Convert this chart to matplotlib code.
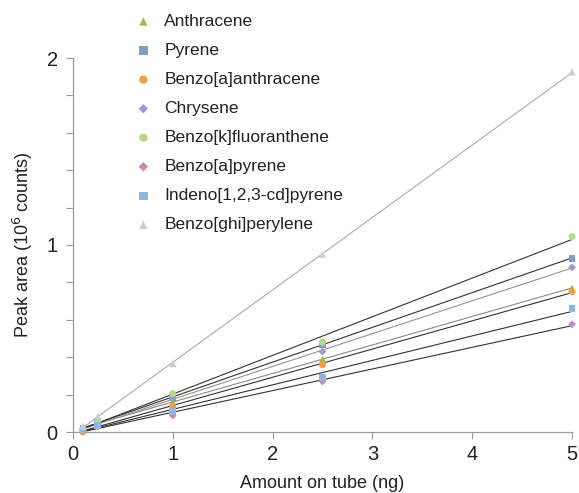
import numpy as np
import matplotlib
matplotlib.use("Agg")
import matplotlib.pyplot as plt
from matplotlib.ticker import MultipleLocator

plt.rcParams['font.family'] = ['Liberation Sans', 'DejaVu Sans']

amount = [0.1, 0.25, 1, 2.5, 5]

series_names = [
    "Anthracene", "Pyrene", "Benzo[a]anthracene", "Chrysene",
    "Benzo[k]fluoranthene", "Benzo[a]pyrene", "Indeno[1,2,3-cd]pyrene",
    "Benzo[ghi]perylene",
]
anthracene = [0.02, 0.05, 0.16, 0.39, 0.77]
pyrene = [0.02, 0.05, 0.185, 0.47, 0.93]
benz_a_anthracene = [0.0, 0.045, 0.135, 0.36, 0.75]
chrysene = [0.015, 0.045, 0.18, 0.43, 0.88]
benzo_k_fluoranthene = [0.02, 0.06, 0.205, 0.48, 1.045]
benzo_a_pyrene = [0.01, 0.03, 0.088, 0.27, 0.576]
indeno_pyrene = [0.015, 0.035, 0.11, 0.29, 0.66]
benzo_ghi_perylene = [0.03, 0.085, 0.365, 0.95, 1.925]

series_values = [anthracene, pyrene, benz_a_anthracene, chrysene,
                 benzo_k_fluoranthene, benzo_a_pyrene, indeno_pyrene,
                 benzo_ghi_perylene]
marker_colors = ["#9bbb59", "#7f9fcb", "#f0a040", "#9e98d0",
                 "#b4d88a", "#c889b8", "#8fb6e2", "#cdc8e2"]
markers = ["^", "s", "o", "D", "o", "D", "s", "^"]
marker_sizes = [5, 5, 5, 4, 5, 4, 5, 5]
line_colors = ["#8f8a85", "#333333", "#333333", "#9a928a",
               "#333333", "#333333", "#333333", "#b0aaa8"]

fig = plt.figure(figsize=(5.79, 4.93), dpi=100)
ax = fig.add_axes([73/579, 1-432/493, (572-73)/579, (432-58)/493])

handles = []
for name, vals, mc, mk, ms, lc in zip(series_names, series_values, marker_colors,
                                      markers, marker_sizes, line_colors):
    x = np.array(amount)
    y = np.array(vals)
    slope, icpt = np.polyfit(x, y, 1)
    ax.plot([x.min(), x.max()], [slope*x.min()+icpt, slope*x.max()+icpt],
            color=lc, lw=0.8, zorder=2, clip_on=False)
    h = ax.scatter(x, y, marker=mk, s=ms**2, color=mc, edgecolors='none',
                   zorder=3, clip_on=False, label=name)
    handles.append(h)

ax.set_xlim(0, 5)
ax.set_ylim(0, 2)
ax.set_xticks([0, 1, 2, 3, 4, 5])
ax.set_yticks([0, 1, 2])
ax.yaxis.set_minor_locator(MultipleLocator(0.2))

for s in ["top", "right"]:
    ax.spines[s].set_visible(False)
for s in ["left", "bottom"]:
    ax.spines[s].set_color("#9a9a9a")
    ax.spines[s].set_linewidth(0.9)

ax.tick_params(axis='both', which='both', direction='out', length=5,
               width=0.8, color="#9a9a9a", labelsize=14.5, labelcolor="#222222")
ax.tick_params(axis='x', pad=4)
ax.tick_params(axis='y', pad=6)

ax.set_xlabel("Amount on tube (ng)", fontsize=13, color="#222222", labelpad=8)
ax.set_ylabel("Peak area (10$^6$ counts)", fontsize=13, color="#222222", labelpad=8)

leg = fig.legend(handles=handles, loc='upper left',
                 bbox_to_anchor=(126/579, 1-7/493), frameon=False,
                 fontsize=12.5, labelspacing=0.8, handletextpad=0.6,
                 handlelength=1.2, markerscale=1.2, borderaxespad=0)
for t in leg.get_texts():
    t.set_color("#222222")

fig.savefig("out.png", dpi=100)
